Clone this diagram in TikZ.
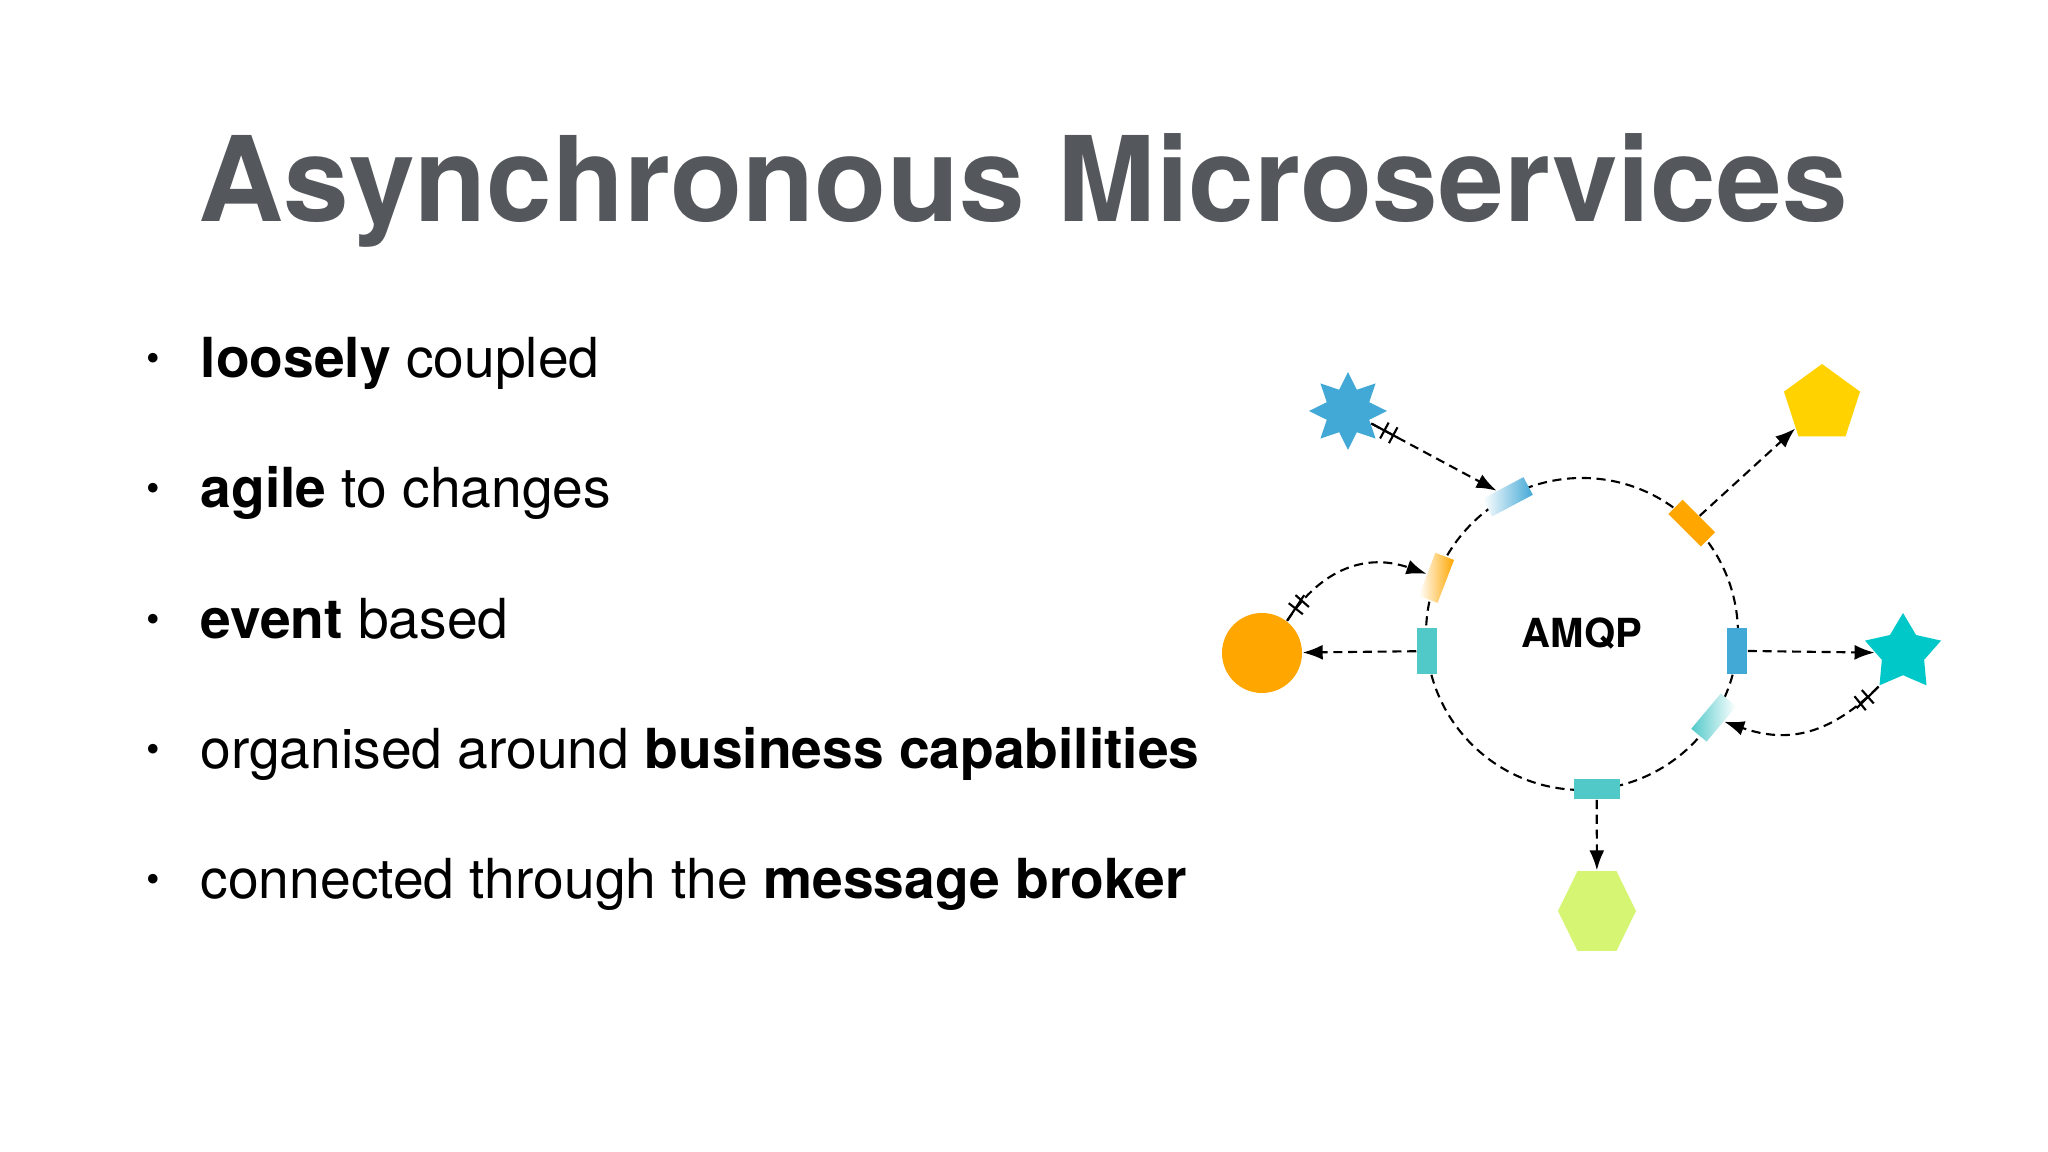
\documentclass[tikz,border=0pt]{standalone}
\usepackage{fontspec}
\setmainfont{TeX Gyre Heros}
\usetikzlibrary{arrows.meta,shapes.geometric,decorations.markings,calc}

\definecolor{titregris}{RGB}{84,87,92}
\definecolor{bleu}{RGB}{66,168,214}
\definecolor{turquoise}{RGB}{82,201,201}
\definecolor{orangevif}{RGB}{255,166,0}
\definecolor{jaune}{RGB}{255,210,0}
\definecolor{cyanvif}{RGB}{0,200,200}
\definecolor{citron}{RGB}{214,245,115}

\tikzset{
  lien/.style={line width=0.6pt, dash pattern=on 2.6pt off 1.6pt,
    -{Latex[length=0.2cm,width=0.15cm]}},
  anneau/.style={line width=0.6pt, dash pattern=on 2.6pt off 1.6pt},
  boite/.style={inner sep=0, minimum width=0.46cm, minimum height=0.20cm},
  service/.style={inner sep=0, draw=none},
  twobar/.style={postaction={decorate}, decoration={markings,
    mark=at position 0.01cm with {\draw[solid,-] (0,0) -- (0.3,0);},
    mark=at position 0.15cm with {\draw[solid,-] (0,-0.09) -- (0,0.09);},
    mark=at position 0.25cm with {\draw[solid,-] (0,-0.09) -- (0,0.09);}}},
  puce/.style={font=\fontsize{11}{11}\selectfont},
  texte/.style={anchor=base west, inner sep=0, font=\fontsize{15.7}{18}\selectfont}
}

\begin{document}
\begin{tikzpicture}

% Fond
\fill[white] (0,0) rectangle (20.48,11.52);
\useasboundingbox (0,0) rectangle (20.48,11.52);

% Titre
\node[anchor=base, text=titregris, font=\bfseries\fontsize{33.6}{40}\selectfont]
(titre) at (10.23,9.30) {Asynchronous Microservices};

% Liste
\node[puce] (p1) at (1.535,7.90) {\textbullet};
\node[texte] (l1) at (2.00,7.74) {\textbf{loosely} coupled};

\node[puce] (p2) at (1.535,6.60) {\textbullet};
\node[texte] (l2) at (2.00,6.44) {\textbf{agile} to changes};

\node[puce] (p3) at (1.535,5.29) {\textbullet};
\node[texte] (l3) at (2.00,5.13) {\textbf{event} based};

\node[puce] (p4) at (1.535,3.99) {\textbullet};
\node[texte] (l4) at (2.00,3.83) {organised around \textbf{business capabilities}};

\node[puce] (p5) at (1.535,2.69) {\textbullet};
\node[texte] (l5) at (2.00,2.53) {connected through the \textbf{message broker}};

% Anneau AMQP
\coordinate (ring) at (15.82,5.18);
\draw[anneau] (ring) circle (1.56);
\node[font=\bfseries\fontsize{11.4}{13}\selectfont] (amqp) at (ring) {AMQP};

% Files sur l'anneau
\node[boite, fill=turquoise, rotate=90] (lrect) at ($(ring)+(186.3:1.56)$) {};
\node[boite, fill=bleu, rotate=90] (rrect) at ($(ring)+(-6.2:1.56)$) {};
\node[boite, fill=turquoise] (brect) at ($(ring)+(-84.6:1.56)$) {};
\node[boite, fill=orangevif, rotate=-45] (orect) at ($(ring)+(45.3:1.56)$) {};
\node[boite, left color=white, right color=bleu, rotate=28]
(bgrad) at ($(ring)+(118.4:1.56)$) {};
\node[boite, left color=white, right color=orangevif, rotate=69]
(ograd) at ($(ring)+(158.9:1.56)$) {};
\node[boite, left color=turquoise, right color=white, rotate=50]
(tgrad) at ($(ring)+(-32.4:1.56)$) {};

% Services
\node[service, star, star points=8, star point ratio=1.7, fill=bleu,
minimum size=0.78cm] (etoile) at (13.48,7.41) {};
\node[service, regular polygon, regular polygon sides=5, fill=jaune,
minimum size=0.80cm] (penta) at (18.22,7.48) {};
\node[service, star, star points=5, star point ratio=1.8, fill=cyanvif,
minimum size=0.80cm] (etoile5) at (19.03,4.99) {};
\node[service, circle, fill=orangevif, minimum size=0.80cm] (rond) at (12.62,4.99) {};
\node[service, regular polygon, regular polygon sides=6, fill=citron,
minimum size=0.78cm, yscale=1.18] (hexa) at (15.97,2.41) {};

% Messages
\draw[lien, twobar] (etoile) -- (bgrad);
\draw[lien] (orect) -- (penta);
\draw[lien] (rrect) -- (etoile5);
\draw[lien] (lrect) -- (rond);
\draw[lien] (brect) -- (hexa);
\draw[lien, twobar] (rond.52) to[bend left=38, looseness=1.1] (ograd);
\draw[lien, twobar] (etoile5.234) to[bend left=32, looseness=1.1] (tgrad);

\end{tikzpicture}
\end{document}
